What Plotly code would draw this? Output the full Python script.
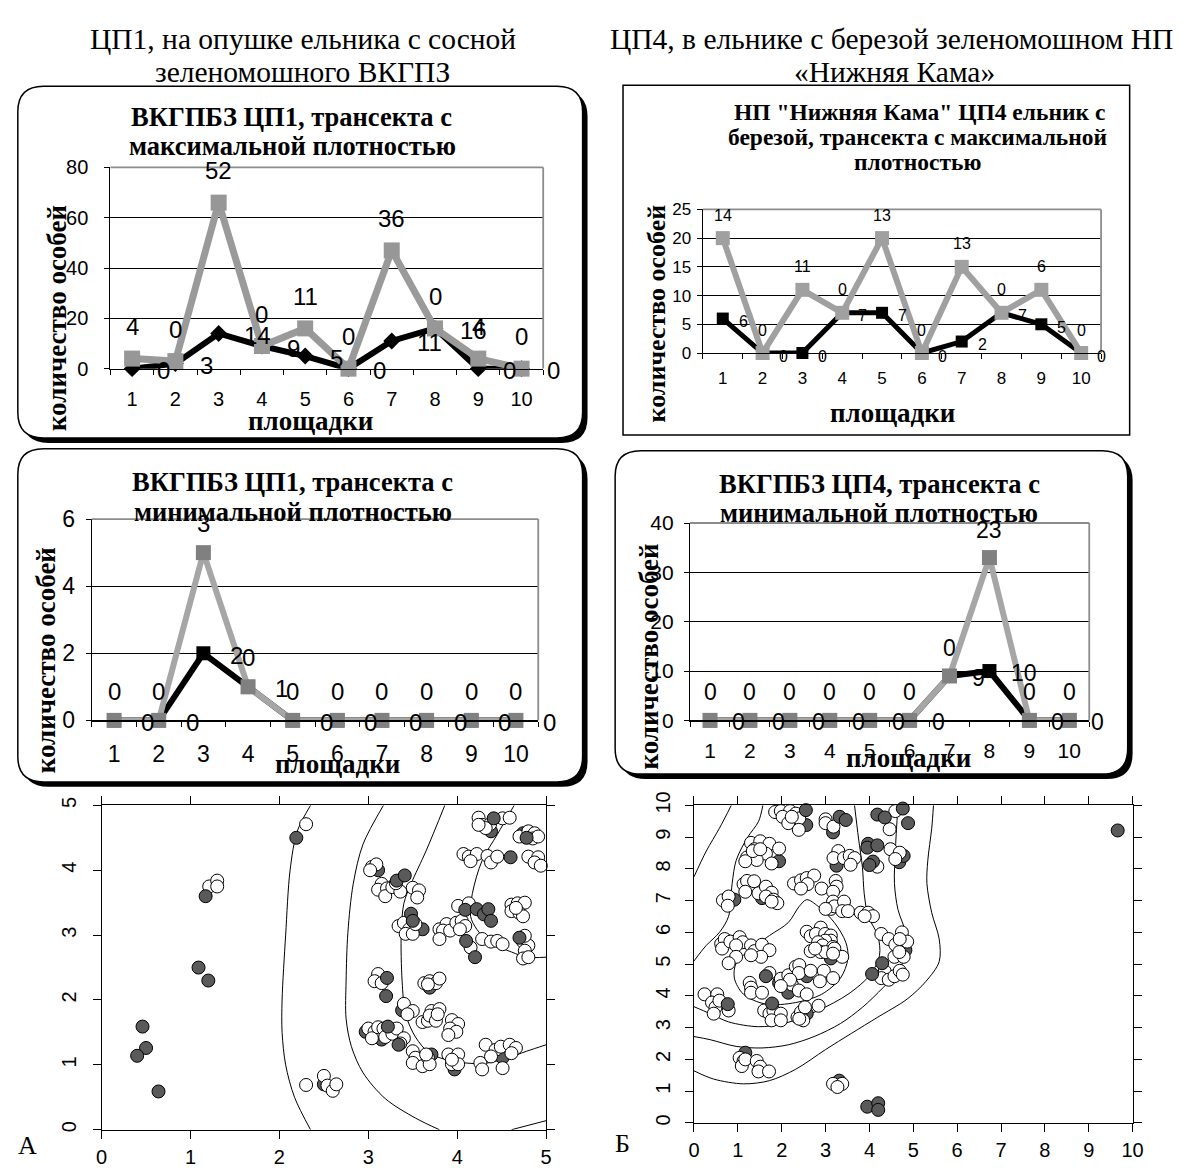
import plotly.graph_objects as go

W, H = 1186, 1174
SERIF = "Liberation Serif"
SANS = "Liberation Sans"

# ---------------- data ----------------
categories = [str(i) for i in range(1, 11)]
cat_pos = list(range(1, 11))

tl_gray = [4, 3, 66, 9, 16, 0, 47, 16, 4, 0]
tl_black = [0, 2, 14, 9, 5, 0, 11, 16, 0, 0]
tl_gray_lbl = ["4", "0", "52", "0", "11", "0", "36", "0", "4", "0"]
tl_black_lbl = ["0", "3", "14", "9", "5", "0", "11", "16", "0", "0"]

tr_gray = [20, 0, 11, 7, 20, 0, 15, 7, 11, 0]
tr_black = [6, 0, 0, 7, 7, 0, 2, 7, 5, 0]
tr_gray_lbl = ["14", "0", "11", "0", "13", "0", "13", "0", "6", "0"]
tr_black_lbl = ["6", "0", "0", "7", "7", "0", "2", "7", "5", "0"]

ml_gray = [0, 0, 5, 1, 0, 0, 0, 0, 0, 0]
ml_black = [0, 0, 2, 1, 0, 0, 0, 0, 0, 0]
ml_gray_lbl = ["0", "0", "3", "0", "0", "0", "0", "0", "0", "0"]
ml_black_lbl = ["0", "0", "2", "1", "0", "0", "0", "0", "0", "0"]

mr_gray = [0, 0, 0, 0, 0, 0, 9, 33, 0, 0]
mr_black = [0, 0, 0, 0, 0, 0, 9, 10, 0, 0]
mr_gray_lbl = ["0", "0", "0", "0", "0", "0", "0", "23", "0", "0"]
mr_black_lbl = ["0", "0", "0", "0", "0", "0", "9", "10", "0", "0"]

# scatter A (left), points (x, y)
a_white = [(2.30,4.71),(1.21,3.75),(1.30,3.84),(1.30,3.75),
    (2.30,0.69),(2.50,0.83),(2.54,0.68),(2.60,0.60),(2.64,0.70),
    (3.04,4.05),(3.09,4.09),(3.02,4.00),
    (3.15,3.79),(3.11,3.70),(3.21,3.72),(3.19,3.60),(3.27,3.74),(3.36,3.67),(3.50,3.73),(3.57,3.69),(3.55,3.58),(3.31,3.80),
    (3.34,3.14),(3.40,3.19),(3.46,3.09),(3.42,3.02),(3.50,3.02),(3.53,3.17),
    (3.80,3.09),(3.88,3.17),(3.84,3.07),(3.80,2.94),(3.92,3.07),(3.99,3.19),(4.05,3.22),(4.09,3.14),(4.03,3.09),(4.01,3.45),(4.13,3.49),
    (4.15,2.81),(4.28,2.94),(4.38,2.90),(4.45,2.91),(4.51,2.86),
    (4.74,2.90),(4.80,2.84),(4.76,2.76),(4.74,2.64),(4.80,2.66),(4.76,2.99),
    (4.61,3.47),(4.68,3.49),(4.76,3.50),(4.61,3.37),(4.70,3.34),(4.74,3.29),(4.66,3.42),
    (4.24,4.81),(4.28,4.70),(4.37,4.71),(4.32,4.65),(4.51,4.80),(4.59,4.81),(4.24,4.70),
    (4.70,4.52),(4.80,4.60),(4.87,4.57),(4.85,4.49),(4.91,4.52),
    (4.07,4.25),(4.13,4.21),(4.22,4.25),(4.15,4.14),(4.34,4.22),(4.38,4.12),(4.45,4.21),
    (4.80,4.21),(4.91,4.20),(4.87,4.12),(4.94,4.07),
    (3.00,1.56),(3.07,1.51),(3.04,1.41),(3.11,1.58),(3.17,1.56),(3.19,1.43),(3.27,1.48),(3.32,1.56),(3.40,1.41),(3.36,1.33),
    (3.11,2.40),(3.07,2.29),(3.15,2.26),
    (3.40,1.94),(3.50,1.83),(3.44,1.78),
    (3.63,2.26),(3.69,2.29),(3.76,2.26),(3.80,2.33),(3.67,2.24),
    (3.61,1.66),(3.67,1.68),(3.71,1.83),(3.80,1.86),(3.69,1.76),(3.76,1.68),(3.78,1.78),
    (3.94,1.69),(4.01,1.63),(3.92,1.56),(3.99,1.51),(3.90,1.46),
    (3.50,1.21),(3.53,1.11),(3.50,1.03),(3.61,0.98),(3.67,1.11),(3.69,1.01),(3.65,1.16),
    (3.90,1.16),(4.01,1.16),(3.94,1.01),(4.01,1.01),(3.94,1.08),
    (4.32,1.31),(4.43,1.23),(4.49,1.28),(4.59,1.31),(4.66,1.26),(4.61,1.18),(4.26,1.03),(4.38,1.13),(4.28,0.93),(4.51,0.95)]
a_dark_top = [(2.19,4.50),(1.17,3.60),(1.09,2.50),(1.20,2.30),(0.46,1.59),(0.50,1.26),(0.40,1.14),(0.64,0.59),
    (3.32,3.84),(3.41,3.92),(3.48,3.33),(3.50,3.22),(3.21,2.34),(3.20,2.06),(3.22,1.59),(3.34,1.31),
    (4.41,4.80),(4.60,4.20),(4.78,4.50),(4.09,3.39),(4.22,3.40),(4.30,3.32),(4.35,3.40),(4.38,3.22),
    (4.10,2.91),(4.20,2.66),(4.70,2.96)]
a_dark_under = [(2.50,0.70),(3.11,4.00),(3.61,3.09),(3.69,2.19),(3.71,1.16),(3.97,0.93),(4.38,4.60),
    (4.74,4.57),(2.97,1.51),(3.15,1.39),(3.38,1.84),(4.51,1.11)]
a_contours = [
    [(2.35,5.0),(2.20,4.6),(2.12,4.0),(2.07,3.0),(2.03,2.0),(2.03,1.5),(2.07,1.0),(2.17,0.5),(2.35,0.0)],
    [(3.17,5.0),(2.94,4.40),(2.83,3.79),(2.77,3.04),(2.75,2.29),(2.75,1.71),(2.81,1.28),(2.94,0.88),(3.19,0.48),(3.53,0.18),(3.80,0.0)],
    [(3.86,5.0),(3.65,4.30),(3.48,3.79),(3.40,3.49),(3.37,3.04),(3.38,2.29),(3.42,1.78),(3.53,1.43),(3.69,1.18),(3.94,1.06),(4.28,1.02),(4.53,1.09),(4.78,1.21),(5.0,1.31)],
    [(4.64,5.0),(4.45,4.55),(4.28,4.15),(4.17,3.64),(4.15,3.29),(4.22,3.09),(4.36,2.89),(4.61,2.74),(4.78,2.66),(5.0,2.66)],
    [(4.61,0.0),(5.0,0.14)],
]

# scatter Б (right)
b_white = [(1.85,9.79),(1.98,9.82),(2.19,9.82),(2.32,9.74),(2.02,9.64),(2.15,9.44),(2.40,9.59),(2.39,9.23),(2.23,9.64),
    (3.00,9.56),(3.00,9.44),(3.18,9.33),(4.59,9.82),(4.46,9.25),
    (1.30,8.82),(1.51,8.87),(1.72,8.79),(1.94,8.64),(1.38,8.62),(1.64,8.48),(1.21,8.36),(1.43,8.28),(1.77,8.17),(1.17,8.24),(1.34,8.56),(1.51,8.62),
    (3.29,8.56),(3.18,8.34),(3.42,8.34),(3.55,8.41),(3.66,8.34),(3.57,8.13),
    (4.18,8.07),(4.48,8.62),(4.69,8.51),(4.59,8.31),
    (2.28,7.54),(2.44,7.64),(2.57,7.71),(2.74,7.79),(2.59,7.52),(2.44,7.38),
    (2.91,7.38),(3.23,7.62),(3.25,7.44),(3.17,7.28),
    (1.13,7.52),(1.21,7.62),(1.37,7.61),(1.17,7.28),(1.47,7.23),(1.64,7.44),(1.77,7.25),(1.64,7.13),(1.81,7.03),(1.90,6.92),(1.77,6.97),
    (0.66,7.01),(0.79,7.13),(0.77,6.84),
    (3.17,6.97),(3.12,6.74),(3.20,6.82),(3.42,6.97),(3.38,6.67),(3.51,6.67),(3.00,6.74),
    (3.80,6.62),(3.97,6.62),(4.08,6.51),(3.89,6.51),
    (2.57,6.02),(2.66,5.88),(2.89,6.15),(2.78,5.95),(2.99,5.95),(3.12,5.90),(3.12,5.74),(2.99,5.74),(2.83,5.69),(2.93,5.59),(3.17,5.54),
    (2.66,5.41),(2.89,5.38),(3.00,5.38),(3.20,5.49),(3.38,5.23),(3.17,5.33),(2.76,5.49),
    (0.62,5.64),(0.70,5.79),(0.64,5.49),(0.83,5.71),(1.04,5.85),(1.11,5.69),(0.96,5.59),(1.30,5.59),(1.38,5.41),(1.55,5.61),(1.72,5.44),
    (1.53,5.23),(1.30,5.28),(0.96,5.23),(0.79,5.03),
    (1.72,4.72),(1.98,4.54),(2.15,4.65),(2.32,4.92),(2.40,4.97),(2.39,4.72),(2.23,4.36),(2.39,4.17),(2.57,4.05),(2.66,4.79),(2.96,4.79),
    (2.87,4.46),(3.17,4.56),(2.19,4.51),(1.98,4.31),
    (1.27,4.41),(1.30,4.26),(1.30,4.10),(1.55,4.10),
    (0.24,4.05),(0.53,4.05),(0.41,3.79),(0.49,3.64),(0.58,3.85),(0.79,3.54),(0.45,3.44),
    (1.60,3.54),(1.72,3.44),(1.81,3.54),(1.98,3.44),(1.77,3.23),(1.98,3.23),
    (2.36,3.33),(2.44,3.49),(2.53,3.64),(2.49,3.23),(2.84,3.69),(2.40,3.28),
    (4.27,5.95),(4.44,5.79),(4.59,5.61),(4.74,6.00),(4.86,5.71),(4.69,5.79),(4.57,5.23),(4.78,5.23),(4.68,5.38),
    (4.35,4.77),(4.27,4.56),(4.44,4.51),(4.57,4.62),(4.69,4.79),(4.76,4.67),
    (1.04,2.05),(1.13,1.95),(1.09,1.79),(1.17,2.00),(1.43,1.95),(1.51,1.77),(1.47,1.62),(1.71,1.62),
    (3.17,1.23),(3.38,1.23),(3.27,1.13)]
b_dark_top = [(9.66,9.21),(2.55,9.85),(3.32,9.64),(3.46,9.54),(4.18,9.71),(4.35,9.62),(4.76,9.90),(4.88,9.44),
    (3.97,8.79),(3.95,8.67),(4.18,8.74),(4.08,8.23),(4.00,8.12),(1.64,4.62),(4.29,5.03),(4.06,4.69),
    (1.78,3.76),(0.77,3.74),(3.95,0.51),(4.20,0.62),(4.20,0.41)]
b_dark_under = [(2.56,9.38),(3.17,9.15),(3.25,8.10),(1.94,8.24),(1.55,7.08),(0.92,7.03),(0.75,5.74),(3.12,5.18),
    (1.94,4.41),(2.15,4.10),(2.57,4.62),(4.82,5.44),(2.57,3.44),(1.17,2.21),(3.31,1.33),(4.68,8.21),(4.78,8.41)]
b_contours = [
    [(0.0,7.75),(0.28,8.56),(0.58,9.28),(0.85,10.0)],
    [(1.57,10.0),(1.47,9.49),(1.21,8.97),(0.96,8.26),(0.87,7.54),(0.79,6.51),(0.58,6.0),(0.28,5.59),(0.0,5.10)],
    [(0.0,3.66),(0.37,3.44),(0.79,3.18),(1.47,3.03),(2.06,3.13),(2.83,3.54),(3.51,4.05),(4.02,4.67),(4.23,5.28),(4.19,5.90),(3.97,6.51),(3.88,7.23),(3.84,8.05),(3.75,8.97),(3.66,10.0)],
    [(2.57,7.03),(2.83,6.82),(3.20,6.31),(3.46,5.69),(3.51,5.18),(3.34,4.56),(2.91,4.05),(2.32,3.79),(1.64,3.74),(1.13,4.05),(0.92,4.56),(0.96,5.03),(1.21,5.38),(1.72,5.90),(2.15,6.31),(2.40,6.82),(2.57,7.03)],
    [(0.0,2.72),(0.37,2.62),(0.96,2.41),(1.55,2.36),(2.15,2.46),(2.74,2.72),(3.34,3.13),(3.84,3.64),(4.31,4.26),(4.65,4.77),(4.82,5.28),(4.82,6.0),(4.65,6.72),(4.57,7.54),(4.59,8.56),(4.65,10.0)],
    [(0.0,1.64),(0.45,1.38),(1.13,1.23),(1.72,1.33),(2.32,1.69),(3.00,2.31),(3.59,2.82),(4.19,3.33),(4.86,3.90),(5.29,4.46),(5.59,5.08),(5.59,5.79),(5.42,6.62),(5.31,7.54),(5.33,8.26),(5.42,9.28),(5.46,10.0)],
]

# ---------------- helpers ----------------
fig = go.Figure()
shapes = []
annotations = []


def dom_x(l, r):
    return [l / W, r / W]


def dom_y(t, b):
    return [1 - b / H, 1 - t / H]


def rounded_path(l, t, r, b, rad):
    xl, xr = l / W, r / W
    yt, yb = 1 - t / H, 1 - b / H
    rx, ry = rad / W, rad / H
    return (f"M {xl+rx},{yt} L {xr-rx},{yt} Q {xr},{yt} {xr},{yt-ry} "
            f"L {xr},{yb+ry} Q {xr},{yb} {xr-rx},{yb} L {xl+rx},{yb} "
            f"Q {xl},{yb} {xl},{yb+ry} L {xl},{yt-ry} Q {xl},{yt} {xl+rx},{yt} Z")


def add_box(l, t, r, b, rad, shadow=5):
    if shadow:
        shapes.append(dict(type="path", path=rounded_path(l + shadow, t + shadow, r + shadow, b + shadow, rad),
                           xref="paper", yref="paper", fillcolor="black", line=dict(width=0), layer="below"))
    shapes.append(dict(type="path", path=rounded_path(l, t, r, b, rad), xref="paper", yref="paper",
                       fillcolor="white", line=dict(color="black", width=1.5), layer="below"))


def text(x, y, s, size, bold=False, family=SERIF, angle=0, xanchor="center"):
    annotations.append(dict(x=x / W, y=1 - y / H, xref="paper", yref="paper",
                            text=f"<b>{s}</b>" if bold else s, showarrow=False,
                            font=dict(family=family, size=size, color="black"),
                            xanchor=xanchor, yanchor="middle", textangle=angle))


def axname(n, kind):
    return kind if n == 1 else f"{kind}{n}"


def line_chart(n, xd, yd, yrange, dtick, gray, black, gray_lbl, black_lbl, st):
    xa, ya = axname(n, "x"), axname(n, "y")
    fig.add_trace(go.Scatter(x=cat_pos, y=black, xaxis=xa, yaxis=ya, mode="lines+markers",
                             line=dict(color="black", width=st["bw"]),
                             marker=dict(symbol=st["bsym"], size=st["bms"], color="black"),
                             cliponaxis=False, showlegend=False, hoverinfo="skip"))
    fig.add_trace(go.Scatter(x=cat_pos, y=gray, xaxis=xa, yaxis=ya, mode="lines+markers",
                             line=dict(color=st["gline"], width=st["gw"]),
                             marker=dict(symbol="square", size=st["gms"], color=st["gmark"]),
                             cliponaxis=False, showlegend=False, hoverinfo="skip"))
    fig.layout[axname(n, "xaxis")] = dict(
        domain=dom_x(*xd), anchor=ya, range=[0.5, 10.5], tickmode="array", tickvals=cat_pos,
        ticktext=categories, ticks="", showline=True, linecolor="black", linewidth=1.2,
        showgrid=False, zeroline=False, ticklabelstandoff=st["xstand"],
        tickfont=dict(family=SANS, size=st["xtf"], color="black"),
        minor=dict(tickmode="array", tickvals=[i + 0.5 for i in range(11)], ticks="outside",
                   ticklen=5, tickcolor="black", tickwidth=1, showgrid=False))
    fig.layout[axname(n, "yaxis")] = dict(
        domain=dom_y(*yd), anchor=xa, range=yrange, tick0=0, dtick=dtick, ticks="outside",
        ticklen=5, tickcolor="black", showline=True, linecolor="black", linewidth=1.2,
        showgrid=True, gridcolor="black", gridwidth=1, zeroline=False,
        ticklabelstandoff=st["ystand"], tickfont=dict(family=SANS, size=st["ytf"], color="black"))
    # gray top / right frame of plot area
    shapes.append(dict(type="line", xref=f"{xa} domain", yref=f"{ya} domain", x0=0, x1=1, y0=1, y1=1,
                       line=dict(color="#8c8c8c", width=1.8), layer="above"))
    shapes.append(dict(type="line", xref=f"{xa} domain", yref=f"{ya} domain", x0=1, x1=1, y0=0, y1=1,
                       line=dict(color="#8c8c8c", width=1.8), layer="above"))
    for c, v, s in zip(cat_pos, gray, gray_lbl):
        annotations.append(dict(x=c, y=v, xref=xa, yref=ya, text=s, showarrow=False,
                                yshift=st["gys"], xanchor="center", yanchor="middle",
                                font=dict(family=SANS, size=st["lf"], color="black")))
    for c, v, s in zip(cat_pos, black, black_lbl):
        annotations.append(dict(x=c, y=v, xref=xa, yref=ya, text=s, showarrow=False,
                                xshift=st["bxs"], yshift=st["bys"], xanchor="left", yanchor="middle",
                                font=dict(family=SANS, size=st["lf"], color="black")))


def scatter_plot(n, xd, yd, rng, white, dark_top, dark_under, contours, tf, ystand):
    xa, ya = axname(n, "x"), axname(n, "y")
    for cont in contours:
        cx, cy = zip(*cont)
        fig.add_trace(go.Scatter(x=list(cx), y=list(cy), xaxis=xa, yaxis=ya, mode="lines",
                                 line=dict(color="black", width=1, shape="spline", smoothing=0.9),
                                 showlegend=False, hoverinfo="skip"))
    for pts, col in ((dark_under, "#5a5a5a"), (white, "white"), (dark_top, "#5a5a5a")):
        px_, py_ = zip(*pts)
        fig.add_trace(go.Scatter(x=list(px_), y=list(py_), xaxis=xa, yaxis=ya, mode="markers",
                                 marker=dict(size=13, color=col, line=dict(color="black", width=1)),
                                 cliponaxis=False, showlegend=False, hoverinfo="skip"))
    common = dict(range=rng, tick0=0, dtick=1, ticks="outside", ticklen=8, tickcolor="black",
                  showline=True, linecolor="black", linewidth=1, mirror="ticks", showgrid=False,
                  zeroline=False, tickfont=dict(family=SANS, size=tf, color="black"))
    fig.layout[axname(n, "xaxis")] = dict(domain=dom_x(*xd), anchor=ya, ticklabelstandoff=1, **common)
    fig.layout[axname(n, "yaxis")] = dict(domain=dom_y(*yd), anchor=xa, tickangle=-90,
                                          ticklabelstandoff=ystand, **common)


# ---------------- boxes ----------------
add_box(12, 74, 585, 434, 26)        # top-left
add_box(626, 73, 1140, 431, 0, shadow=0)  # top-right (plain frame)
add_box(12, 445, 585, 786, 26)       # middle-left
add_box(618, 447, 1138, 778, 26)     # middle-right

# ---------------- line charts ----------------
st_tl = dict(bw=6, bsym="diamond", bms=13, gw=7, gms=16, gline="#9a9a9a", gmark="#979797",
             lf=24, gys=32, bxs=23, bys=-2, xtf=20, ytf=20, xstand=12, ystand=12)
st_tr = dict(bw=5, bsym="square", bms=12, gw=6, gms=14, gline="#a0a0a0", gmark="#a0a0a0",
             lf=16, gys=23, bxs=14, bys=-3, xtf=17, ytf=17, xstand=9, ystand=2)
st_ml = dict(bw=6, bsym="square", bms=14, gw=6, gms=15, gline="#a6a6a6", gmark="#808080",
             lf=24, gys=29, bxs=25, bys=-2, xtf=23, ytf=23, xstand=13, ystand=6)
st_mr = dict(bw=6, bsym="square", bms=14, gw=6, gms=15, gline="#a6a6a6", gmark="#808080",
             lf=23, gys=28, bxs=20, bys=-2, xtf=21, ytf=21, xstand=11, ystand=6)

line_chart(1, (106, 545), (157, 363), [0, 80], 20, tl_gray, tl_black, tl_gray_lbl, tl_black_lbl, st_tl)
line_chart(2, (707, 1111), (200, 347), [0, 25], 5, tr_gray, tr_black, tr_gray_lbl, tr_black_lbl, st_tr)
line_chart(3, (87, 540), (517, 723), [0, 6], 2, ml_gray, ml_black, ml_gray_lbl, ml_black_lbl, st_ml)
line_chart(4, (694, 1099), (521, 723), [0, 40], 10, mr_gray, mr_black, mr_gray_lbl, mr_black_lbl, st_mr)

scatter_plot(5, (97, 548), (810, 1142), [0, 5], a_white, a_dark_top, a_dark_under, a_contours, 20, 9)
scatter_plot(6, (698, 1143), (810, 1135), [0, 10], b_white, b_dark_top, b_dark_under, b_contours, 20, 7)

# ---------------- texts ----------------
text(301, 26, "ЦП1, на опушке ельника с сосной", 29.5)
text(301, 59, "зеленомошного ВКГПЗ", 29.5)
text(898, 26, "ЦП4, в ельнике с березой зеленомошном НП", 29.5)
text(901, 59, "«Нижняя Кама»", 29.5)

text(290, 105, "ВКГПБЗ ЦП1, трансекта с", 26.5, bold=True)
text(291, 135, "максимальной плотностью", 26.5, bold=True)
text(927, 100, "НП \"Нижняя Кама\" ЦП4 ельник с", 23.5, bold=True)
text(925, 126, "березой, трансекта с максимальной", 23.5, bold=True)
text(925, 151, "плотностью", 23.5, bold=True)
text(291, 479, "ВКГПБЗ ЦП1, трансекта с", 26.5, bold=True)
text(291, 510, "минимальной плотностью", 26.5, bold=True)
text(886, 481, "ВКГПБЗ ЦП4, трансекта с", 26.5, bold=True)
text(886, 511, "минимальной плотностью", 26.5, bold=True)

text(52, 311, "количество особей", 27, bold=True, angle=-90)
text(660, 307, "количество особей", 26, bold=True, angle=-90)
text(40, 661, "количество особей", 27, bold=True, angle=-90)
text(652, 658, "количество особей", 27, bold=True, angle=-90)
text(309, 417, "площадки", 27, bold=True)
text(899, 408, "площадки", 27, bold=True)
text(336, 768, "площадки", 27, bold=True)
text(916, 762, "площадки", 27, bold=True)

text(22, 1158, "А", 26)
text(625, 1156, "Б", 26)

fig.update_layout(width=W, height=H, margin=dict(l=0, r=0, t=0, b=0),
                  paper_bgcolor="white", plot_bgcolor="rgba(0,0,0,0)",
                  shapes=shapes, annotations=annotations, showlegend=False)

fig.write_html("out.html", config={"displayModeBar": False, "staticPlot": True},
               post_script="document.body.style.margin='0';document.body.style.overflow='hidden';")
